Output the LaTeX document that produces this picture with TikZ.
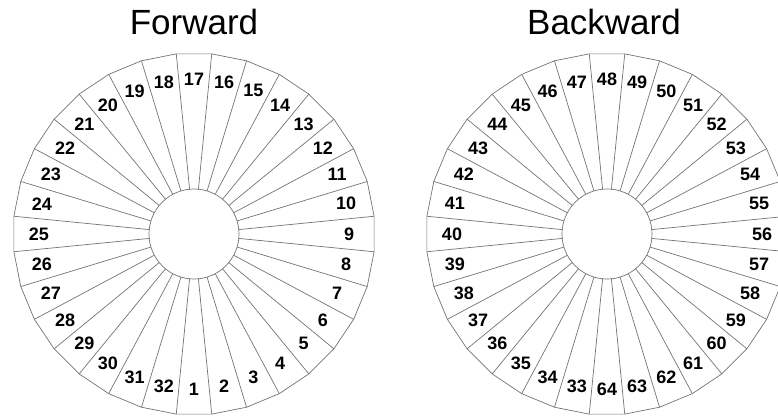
\documentclass[tikz,border=0pt]{standalone}
\usepackage{fontspec}
\setmainfont{Liberation Sans}
\usetikzlibrary{positioning}
\definecolor{spokegray}{gray}{0.45}

\begin{document}
\begin{tikzpicture}[x=1pt,y=1pt,
    rim/.style={spokegray, line width=0.7pt},
    numlabel/.style={inner sep=0pt, font=\fontsize{18}{20}\selectfont\bfseries},
    wheeltitle/.style={anchor=base, inner sep=0pt, font=\fontsize{35}{40}\selectfont}]

\clip (0,0) rectangle (778,416);

\coordinate (fc) at (194,182);
\coordinate (bc) at (607,182);

% both wheels
\foreach \c in {fc,bc}{
  \begin{scope}[shift={(\c)}]
    \draw[rim] (275.625:181) \foreach \i in {1,...,31}{ -- (275.625+\i*11.25:181)} -- cycle;
    \foreach \i in {0,...,31}
      \draw[rim] (275.625+\i*11.25:45) -- (275.625+\i*11.25:181);
    \draw[rim] (0,0) circle (45);
  \end{scope}
}

% sector numbers
\begin{scope}[shift={(fc)}]
  \foreach \k in {1,...,32}
    \node[numlabel] (f\k) at (270+\k*11.25-11.25:155) {\k};
\end{scope}
\begin{scope}[shift={(bc)}]
  \foreach \k in {33,...,64}
    \node[numlabel] (b\k) at (270+64*11.25-\k*11.25:155) {\k};
\end{scope}

\node[wheeltitle] (fwd) at (194,381) {Forward};
\node[wheeltitle] (bwd) at (604,381) {Backward};

\end{tikzpicture}
\end{document}
